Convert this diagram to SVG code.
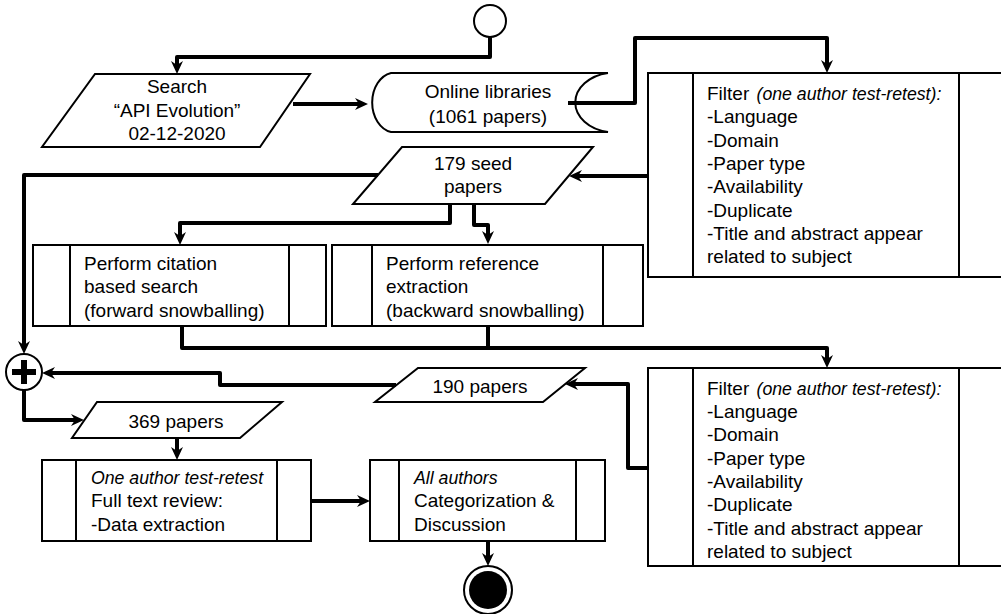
<svg xmlns="http://www.w3.org/2000/svg" width="1001" height="614" viewBox="0 0 1001 614">
<defs>
<marker id="arr" viewBox="0 0 14 12" markerWidth="14" markerHeight="12" refX="4" refY="6" orient="auto" markerUnits="userSpaceOnUse">
<path d="M0,0 L13,6 L0,12 L4,6 z" fill="#000"/>
</marker>
</defs>
<style>
.s{fill:#fff;stroke:#000;stroke-width:2}
.ln{fill:none;stroke:#000;stroke-width:2}
.c{fill:none;stroke:#000;stroke-width:4;stroke-linejoin:round;marker-end:url(#arr)}
.cn{fill:none;stroke:#000;stroke-width:4;stroke-linejoin:round}
text{font-family:"Liberation Sans",Arial,sans-serif;font-size:19px;fill:#000}
.i{font-style:italic;font-size:17.7px}
.m{text-anchor:middle}
</style>
<rect width="1001" height="614" fill="#fff"/>

<g id="start"><circle class="s" cx="490" cy="21" r="16"/></g>

<g id="search">
<polygon class="s" points="95,74 310,74 260,147 42,147"/>
<text class="m" x="177" y="93">Search</text>
<text class="m" x="177" y="117">“API Evolution”</text>
<text class="m" x="177" y="140">02-12-2020</text>
</g>

<g id="online">
<path class="s" d="M608,73 L391,73 A23,30 0 0 0 391,132 L608,132 A40,30 0 0 1 608,73"/>
<text class="m" x="488" y="98">Online libraries</text>
<text class="m" x="488" y="123">(1061 papers)</text>
</g>

<g id="filter1">
<rect class="s" x="648" y="73" width="370" height="204"/>
<line class="ln" x1="693" y1="73" x2="693" y2="277"/>
<line class="ln" x1="959" y1="73" x2="959" y2="277"/>
<text x="707" y="100">Filter <tspan class="i" dx="2">(one author test-retest):</tspan></text>
<text x="707" y="123">-Language</text>
<text x="707" y="147">-Domain</text>
<text x="707" y="170">-Paper type</text>
<text x="707" y="193">-Availability</text>
<text x="707" y="217">-Duplicate</text>
<text x="707" y="240">-Title and abstract appear</text>
<text x="707" y="263">related to subject</text>
</g>

<g id="seed">
<polygon class="s" points="402,147 593,147 545,204 353,204"/>
<text class="m" x="473" y="170">179 seed</text>
<text class="m" x="473" y="193">papers</text>
</g>

<g id="citation">
<rect class="s" x="33" y="245" width="293" height="81"/>
<line class="ln" x1="70" y1="245" x2="70" y2="326"/>
<line class="ln" x1="289" y1="245" x2="289" y2="326"/>
<text x="84" y="270">Perform citation</text>
<text x="84" y="293">based search</text>
<text x="84" y="317">(forward snowballing)</text>
</g>

<g id="reference">
<rect class="s" x="332" y="245" width="311" height="81"/>
<line class="ln" x1="372" y1="245" x2="372" y2="326"/>
<line class="ln" x1="603" y1="245" x2="603" y2="326"/>
<text x="386" y="270">Perform reference</text>
<text x="386" y="293">extraction</text>
<text x="386" y="317">(backward snowballing)</text>
</g>

<g id="merge">
<circle class="s" cx="24" cy="372" r="18"/>
<path d="M12,372 L36,372 M24,360 L24,384" stroke="#000" stroke-width="6" fill="none"/>
</g>

<g id="p190">
<polygon class="s" points="418,368 585,368 543,402 375,402"/>
<text class="m" x="480" y="393">190 papers</text>
</g>

<g id="filter2">
<rect class="s" x="648" y="368" width="370" height="198"/>
<line class="ln" x1="693" y1="368" x2="693" y2="566"/>
<line class="ln" x1="959" y1="368" x2="959" y2="566"/>
<text x="707" y="395">Filter <tspan class="i" dx="2">(one author test-retest):</tspan></text>
<text x="707" y="418">-Language</text>
<text x="707" y="441">-Domain</text>
<text x="707" y="465">-Paper type</text>
<text x="707" y="488">-Availability</text>
<text x="707" y="511">-Duplicate</text>
<text x="707" y="535">-Title and abstract appear</text>
<text x="707" y="558">related to subject</text>
</g>

<g id="p369">
<polygon class="s" points="97,402 282,402 240,438 72,438"/>
<text class="m" x="176" y="428">369 papers</text>
</g>

<g id="fulltext">
<rect class="s" x="42" y="460" width="269" height="81"/>
<line class="ln" x1="76" y1="460" x2="76" y2="541"/>
<line class="ln" x1="277" y1="460" x2="277" y2="541"/>
<text class="i" x="91" y="484">One author test-retest</text>
<text x="91" y="507">Full text review:</text>
<text x="91" y="531">-Data extraction</text>
</g>

<g id="categorization">
<rect class="s" x="370" y="460" width="235" height="81"/>
<line class="ln" x1="399" y1="460" x2="399" y2="541"/>
<line class="ln" x1="576" y1="460" x2="576" y2="541"/>
<text class="i" x="414" y="484">All authors</text>
<text x="414" y="507">Categorization &amp;</text>
<text x="414" y="531">Discussion</text>
</g>

<g id="end">
<circle class="s" cx="488" cy="590" r="24"/>
<circle cx="488" cy="590" r="19" fill="#000"/>
</g>

<g id="connectors">
<path class="c" d="M490,37 L490,57 L177,57 L177,65"/>
<path class="c" d="M293,104 L359,104"/>
<path class="c" d="M568,103 L635,103 L635,38 L827,38 L827,64"/>
<path class="c" d="M648,176 L578,176"/>
<path class="c" d="M378,175 L24,175 L24,345"/>
<path class="c" d="M450,204 L450,223 L180,223 L180,236"/>
<path class="c" d="M474,204 L474,225 L488,225 L488,235"/>
<path class="c" d="M182,326 L182,348 L827,348 L827,359"/>
<path class="cn" d="M488,326 L488,348"/>
<path class="c" d="M648,468 L628,468 L628,384 L574,384"/>
<path class="c" d="M396,385 L220,385 L220,373 L51,373"/>
<path class="c" d="M24,390 L24,420 L75,420"/>
<path class="c" d="M177,438 L177,451"/>
<path class="c" d="M311,501 L361,501"/>
<path class="c" d="M488,541 L488,557"/>
</g>
</svg>
